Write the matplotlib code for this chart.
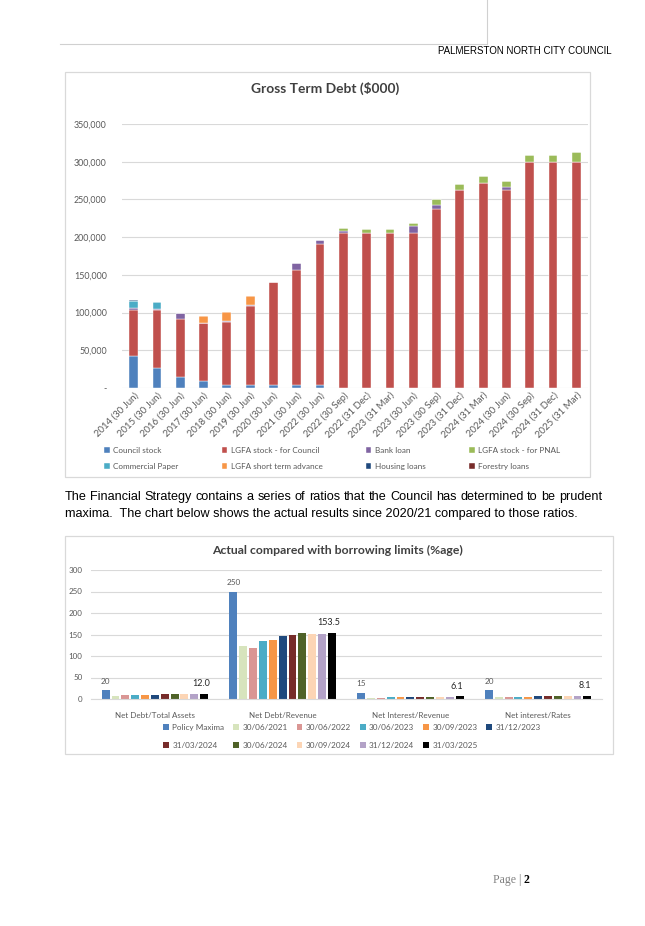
import matplotlib
matplotlib.use("Agg")
import matplotlib.pyplot as plt
from matplotlib.patches import Rectangle
from matplotlib.lines import Line2D
import numpy as np

plt.rcParams['font.family'] = ['Lato', 'DejaVu Sans']

# ---- data: Gross Term Debt ($000) ----
periods = ['2014 (30 Jun)', '2015 (30 Jun)', '2016 (30 Jun)', '2017 (30 Jun)', '2018 (30 Jun)',
           '2019 (30 Jun)', '2020 (30 Jun)', '2021 (30 Jun)', '2022 (30 Jun)', '2022 (30 Sep)',
           '2022 (31 Dec)', '2023 (31 Mar)', '2023 (30 Jun)', '2023 (30 Sep)', '2023 (31 Dec)',
           '2024 (31 Mar)', '2024 (30 Jun)', '2024 (30 Sep)', '2024 (31 Dec)', '2025 (31 Mar)']
council_stock = [42000, 26300, 14900, 9600, 4400, 4400, 4400, 4400, 4400, 0,
                 0, 0, 0, 0, 0, 0, 0, 0, 0, 0]
lgfa_council = [62000, 77000, 76800, 76400, 83300, 103900, 136400, 152200, 186000, 206100,
                205300, 205300, 205300, 236800, 262300, 272000, 262300, 300000, 300000, 300000]
bank_loan = [2600, 800, 8300, 0, 1700, 1700, 0, 8800, 5700, 2200,
             0, 0, 9200, 5300, 0, 0, 4400, 0, 0, 0]
lgfa_pnal = [0, 0, 0, 0, 0, 0, 0, 0, 0, 4400,
             5200, 5200, 4400, 7900, 8000, 8400, 8000, 8400, 8400, 12800]
commercial_paper = [9000, 9800, 0, 0, 0, 0, 0, 0, 0, 0,
                    0, 0, 0, 0, 0, 0, 0, 0, 0, 0]
lgfa_short_term = [0, 0, 0, 10000, 11000, 12300, 0, 0, 0, 0,
                   0, 0, 0, 0, 0, 0, 0, 0, 0, 0]
housing_loans = [1500, 0, 0, 0, 0, 0, 0, 0, 0, 0,
                 0, 0, 0, 0, 0, 0, 0, 0, 0, 0]
forestry_loans = [0] * 20

debt_names = ['Council stock', 'LGFA stock - for Council', 'Bank loan', 'LGFA stock - for PNAL',
              'Commercial Paper', 'LGFA short term advance', 'Housing loans', 'Forestry loans']
debt_series = [council_stock, lgfa_council, bank_loan, lgfa_pnal,
               commercial_paper, lgfa_short_term, housing_loans, forestry_loans]
debt_colors = ['#4F81BD', '#C0504D', '#8064A2', '#9BBB59',
               '#4BACC6', '#F79646', '#1F497D', '#772C2A']

# ---- data: borrowing limits (%age) ----
ratios = ['Net Debt/Total Assets', 'Net Debt/Revenue', 'Net Interest/Revenue', 'Net interest/Rates']
dates = ['Policy Maxima', '30/06/2021', '30/06/2022', '30/06/2023', '30/09/2023', '31/12/2023',
         '31/03/2024', '30/06/2024', '30/09/2024', '31/12/2024', '31/03/2025']
policy_maxima = [20, 250, 15, 20]
jun_2021 = [8.0, 123, 2.5, 4.0]
jun_2022 = [8.2, 119, 2.5, 4.0]
jun_2023 = [9.6, 134, 3.5, 5.5]
sep_2023 = [9.8, 138, 3.6, 5.6]
dec_2023 = [10.3, 147, 4.0, 7.0]
mar_2024 = [10.6, 149, 5.0, 7.5]
jun_2024 = [11.4, 153, 4.5, 7.2]
sep_2024 = [11.0, 152, 5.2, 7.6]
dec_2024 = [11.3, 152, 5.5, 7.6]
mar_2025 = [12.0, 153.5, 6.1, 8.1]
ratio_series = [policy_maxima, jun_2021, jun_2022, jun_2023, sep_2023, dec_2023,
                mar_2024, jun_2024, sep_2024, dec_2024, mar_2025]
ratio_colors = ['#4F81BD', '#D7E4BD', '#DA9694', '#4BACC6', '#F79646', '#1F497D',
                '#772C2A', '#4F6228', '#FCD5B5', '#B3A2C7', '#000000']

W, H = 645, 926
fig = plt.figure(figsize=(W / 100, H / 100), dpi=100)


def fx(px):
    return px / W


def fy(py):
    return 1 - py / H


def box(x0, y0, x1, y1):
    fig.patches.append(Rectangle((fx(x0), fy(y1)), (x1 - x0) / W, (y1 - y0) / H,
                                 transform=fig.transFigure, fill=False,
                                 ec='#D9D9D9', lw=0.9))


# page header / footer
fig.add_artist(Line2D([fx(60), fx(487)], [fy(44), fy(44)], color='#D0D0D0', lw=0.8))
fig.add_artist(Line2D([fx(487), fx(487)], [fy(0), fy(44)], color='#D0D0D0', lw=0.8))
fig.text(fx(612), fy(51), 'PALMERSTON NORTH CITY COUNCIL', family='Liberation Sans',
         fontsize=7, ha='right', va='center', color='#000000')
fig.text(fx(524), fy(880), 'Page | ', family='Liberation Serif', fontsize=8.5,
         ha='right', va='center', color='#808080')
fig.text(fx(524), fy(880), '2', family='Liberation Serif', fontsize=8.5, weight='bold',
         ha='left', va='center', color='#000000')

grey = '#595959'

# ---------------- chart 1 ----------------
box(64.5, 72.5, 590, 477)
fig.text(fx(325), fy(88), 'Gross Term Debt ($000)', fontsize=9.9, weight='bold',
         ha='center', va='center', color='#404040')
ax1 = fig.add_axes([fx(122), fy(388), (588 - 122) / W, (388 - 124) / H])
x = np.arange(len(periods))
bottom = np.zeros(len(periods))
handles = []
for name, vals, col in zip(debt_names, debt_series, debt_colors):
    b = ax1.bar(x, vals, 0.38, bottom=bottom, color=col, edgecolor='white', linewidth=0.3,
                label=name)
    bottom += np.array(vals)
    handles.append(b)
ax1.set_xlim(-0.5, len(periods) - 0.5)
ax1.set_ylim(0, 350000)
ax1.set_yticks(np.arange(0, 350001, 50000))
ax1.set_yticklabels(['-'] + ['{:,}'.format(v) for v in range(50000, 350001, 50000)])
ax1.yaxis.grid(True, color='#D9D9D9', lw=0.8)
ax1.set_axisbelow(True)
for s in ax1.spines.values():
    s.set_visible(False)
ax1.tick_params(axis='both', length=0, labelsize=6.4, labelcolor=grey)
ax1.tick_params(axis='y', pad=11)
ax1.set_xticks(x)
ax1.set_xticklabels(periods, rotation=45, ha='right', rotation_mode='anchor', fontsize=6.9)
ax1.tick_params(axis='x', pad=2)
order = [0, 4, 1, 5, 2, 6, 3, 7]
leg1 = fig.legend([handles[i] for i in order], [debt_names[i] for i in order], ncol=4,
                  loc='center left', bbox_to_anchor=(fx(104), fy(458.5), (560 - 104) / W, 0),
                  mode='expand', frameon=False, fontsize=5.9, handlelength=0.7, handleheight=0.7,
                  handletextpad=0.4, labelspacing=1.05, borderaxespad=0, borderpad=0)
for t in leg1.get_texts():
    t.set_color(grey)

# ---------------- paragraph ----------------
line1 = 'The Financial Strategy contains a series of ratios that the Council has determined to be prudent'
line2 = 'maxima.  The chart below shows the actual results since 2020/21 compared to those ratios.'
words = line1.split()
wtexts = [fig.text(0, fy(497), w, family='Liberation Sans', fontsize=9.1, va='center')
          for w in words]
fig.canvas.draw()
r = fig.canvas.get_renderer()
widths = [t.get_window_extent(r).width for t in wtexts]
gap = (602 - 65 - sum(widths)) / (len(words) - 1)
xp = 65
for t, w in zip(wtexts, widths):
    t.set_x(fx(xp))
    xp += w + gap
fig.text(fx(65), fy(514), line2, family='Liberation Sans', fontsize=9.1, va='center')

# ---------------- chart 2 ----------------
box(64.5, 535.5, 612.5, 754)
fig.text(fx(338), fy(550), 'Actual compared with borrowing limits (%age)', fontsize=8.8,
         weight='bold', ha='center', va='center', color='#404040')
ax2 = fig.add_axes([fx(91), fy(699), (602 - 91) / W, (699 - 570) / H])
g = np.arange(len(ratios))
slot = 0.077
handles2 = []
for j, (name, vals, col) in enumerate(zip(dates, ratio_series, ratio_colors)):
    b = ax2.bar(g + (j - 5) * slot, vals, 0.062, color=col, label=name)
    handles2.append(b)
    if j == 0:
        for xi, v in zip(g + (j - 5) * slot, vals):
            ax2.annotate('{:g}'.format(v), (xi, v), xytext=(0, 4), textcoords='offset points',
                         ha='center', va='bottom', fontsize=5.9, color=grey)
    if j == len(dates) - 1:
        for xi, v in zip(g + (j - 5) * slot, vals):
            ax2.annotate('{:.1f}'.format(v), (xi, v), xytext=(-2, 4), textcoords='offset points',
                         ha='center', va='bottom', fontsize=6.5, color='#262626')
ax2.set_xlim(-0.5, len(ratios) - 0.5)
ax2.set_ylim(0, 300)
ax2.set_yticks(np.arange(0, 301, 50))
ax2.yaxis.grid(True, color='#D9D9D9', lw=0.8)
ax2.set_axisbelow(True)
for k, s in ax2.spines.items():
    s.set_visible(k == 'bottom')
ax2.spines['bottom'].set_color('#D9D9D9')
ax2.set_xticks(g)
ax2.set_xticklabels(ratios)
ax2.tick_params(axis='both', length=0, labelsize=5.8, labelcolor=grey)
ax2.tick_params(axis='y', pad=6)
ax2.tick_params(axis='x', pad=9)
order2 = [0, 6, 1, 7, 2, 8, 3, 9, 4, 10, 5]
leg2 = fig.legend([handles2[i] for i in order2], [dates[i] for i in order2], ncol=6,
                  loc='center', bbox_to_anchor=(fx(352), fy(736.5)), frameon=False,
                  fontsize=5.9, handlelength=0.7, handleheight=0.7, handletextpad=0.4,
                  columnspacing=1.1, labelspacing=1.3, borderpad=0)
for t in leg2.get_texts():
    t.set_color(grey)

fig.savefig('out.png', dpi=100)
